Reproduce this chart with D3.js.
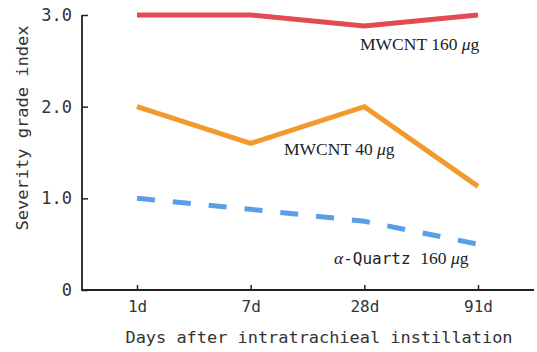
<!DOCTYPE html>
<html lang="en">
<head>
<meta charset="UTF-8">
<title>Severity grade index</title>
<script src="https://cdn.jsdelivr.net/npm/d3@7"></script>
<style>
  body { margin: 0; background: #fff; }
</style>
</head>
<body>
<svg></svg>
<script>
// categories and values
var days = ["1d", "7d", "28d", "91d"];
var mwcnt160 = [3.0, 3.0, 2.88, 3.0];
var mwcnt40 = [2.0, 1.6, 2.0, 1.13];
var quartz160 = [1.0, 0.88, 0.75, 0.5];
var yTicks = [0, 1, 2, 3];

var width = 537, height = 352;
var svg = d3.select("svg").attr("width", width).attr("height", height);

// x is a point scale over the days, y linear 0..3
var x = d3.scalePoint().domain(days).range([137, 478]);
var y = d3.scaleLinear().domain([0, 3]).range([290, 15]);

var gothic = "'DejaVu Sans Mono', monospace";

// y axis, ticks pointing inward
var yAxis = svg.append("g")
    .attr("transform", "translate(82,0)")
    .call(d3.axisRight(y).tickValues(yTicks).tickSize(6)
        .tickFormat(function(d){ return d === 0 ? "0" : d3.format(".1f")(d); }));
yAxis.select(".domain").remove();
yAxis.selectAll("line").attr("stroke", "#222").attr("stroke-width", 1.5);
yAxis.selectAll("text")
    .attr("x", -10).attr("text-anchor", "end")
    .attr("font-family", gothic).attr("font-size", 17).attr("fill", "#333");

// x axis, ticks pointing up
var xAxis = svg.append("g")
    .attr("transform", "translate(0,290)")
    .call(d3.axisTop(x).tickSize(5));
xAxis.select(".domain").remove();
xAxis.selectAll("line").attr("stroke", "#222").attr("stroke-width", 1.5);
xAxis.selectAll("text")
    .attr("y", 22).attr("dy", 0)
    .attr("font-family", gothic).attr("font-size", 16).attr("fill", "#333");

// axis lines
svg.append("path")
    .attr("d", "M82," + y(3) + "V290H534")
    .attr("fill", "none").attr("stroke", "#222").attr("stroke-width", 1.8);

// series
var line = d3.line()
    .x(function(d, i){ return x(days[i]); })
    .y(function(d){ return y(d); });

svg.append("path").datum(mwcnt160)
    .attr("d", line).attr("fill", "none")
    .attr("stroke", "#e34a52").attr("stroke-width", 5);

svg.append("path").datum(mwcnt40)
    .attr("d", line).attr("fill", "none")
    .attr("stroke", "#f39a2e").attr("stroke-width", 5)
    .attr("stroke-linejoin", "miter");

svg.append("path").datum(quartz160)
    .attr("d", line).attr("fill", "none")
    .attr("stroke", "#5a9ee8").attr("stroke-width", 5)
    .attr("stroke-dasharray", "18,18");

// series labels
function seriesLabel(px, py, pre) {
    var t = svg.append("text")
        .attr("x", px).attr("y", py)
        .attr("font-family", "'Liberation Serif', 'Times New Roman', serif")
        .attr("font-size", 17.5).attr("fill", "#222");
    if (pre.italicAlpha) {
        t.append("tspan").attr("font-style", "italic").text("α");
        t.append("tspan").attr("font-family", gothic).attr("font-size", 16).text("-Quartz ");
        t.append("tspan").text("160 ");
    } else {
        t.append("tspan").text(pre.text + " ");
    }
    t.append("tspan").attr("font-style", "italic").text("μ");
    t.append("tspan").text("g");
}
seriesLabel(360, 50, {text: "MWCNT 160"});
seriesLabel(284, 155, {text: "MWCNT 40"});
seriesLabel(334, 264, {italicAlpha: true});

// axis titles
svg.append("text")
    .attr("x", 319).attr("y", 343)
    .attr("text-anchor", "middle")
    .attr("font-family", gothic).attr("font-size", 16).attr("fill", "#333")
    .attr("textLength", 387).attr("lengthAdjust", "spacingAndGlyphs")
    .text("Days after intratrachieal instillation");

svg.append("text")
    .attr("transform", "translate(28,128) rotate(-90)")
    .attr("text-anchor", "middle")
    .attr("font-family", gothic).attr("font-size", 16).attr("fill", "#333")
    .attr("textLength", 205).attr("lengthAdjust", "spacingAndGlyphs")
    .text("Severity grade index");
</script>
</body>
</html>
